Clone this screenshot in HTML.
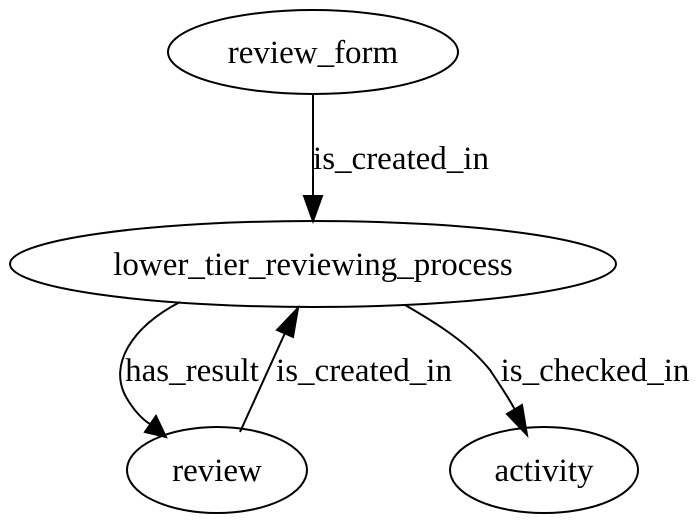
<!DOCTYPE html>
<html><head><meta charset="utf-8"><style>
html,body{margin:0;padding:0;background:#fff;width:700px;height:527px;overflow:hidden}
text{font-family:"Liberation Serif",serif;font-size:33px;fill:#000}
</style></head><body>
<svg width="700" height="527" viewBox="0 0 700 527" xmlns="http://www.w3.org/2000/svg">
<g fill="none" stroke="#000" stroke-width="2">
<ellipse cx="313" cy="52" rx="145" ry="42"/>
<ellipse cx="313" cy="264" rx="303" ry="43"/>
<ellipse cx="217" cy="470" rx="90" ry="43"/>
<ellipse cx="544" cy="470" rx="94" ry="43"/>
<path d="M313,94 L313,196"/>
<path d="M180,302 C130,328 110,365 125,395 C133,410 143,420 150,424"/>
<path d="M240,432 L285,333"/>
<path d="M405,305 C440,325 470,345 490,370 C500,385 510,400 515,410"/>
</g>
<g fill="#000" stroke="#000" stroke-width="2">
<polygon points="304,196 322,196 313,221"/>
<polygon points="145,432 156,416 166,437"/>
<polygon points="277,330 293,337 298,308"/>
<polygon points="507,414 522,405 527,435"/>
</g>
<text x="313" y="275" text-anchor="middle">lower_tier_reviewing_process</text>
<text x="313" y="63" text-anchor="middle">review_form</text>
<text x="217" y="481" text-anchor="middle">review</text>
<text x="544" y="481" text-anchor="middle">activity</text>
<text x="401" y="169" text-anchor="middle">is_created_in</text>
<text x="192" y="381" text-anchor="middle">has_result</text>
<text x="364" y="381" text-anchor="middle">is_created_in</text>
<text x="595" y="381" text-anchor="middle">is_checked_in</text>
</svg>
</body></html>
